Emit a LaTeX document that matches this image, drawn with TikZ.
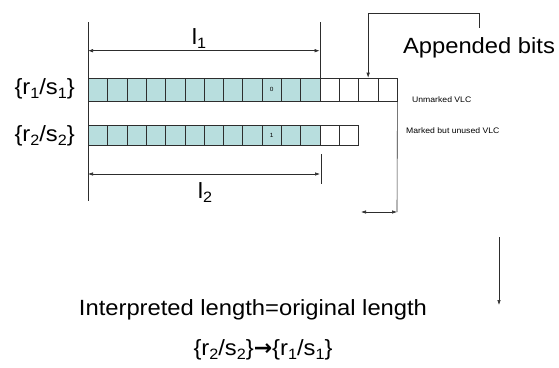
\documentclass[tikz,border=0pt]{standalone}
\usepackage{fontspec}
\setmainfont{Liberation Sans}[FakeStretch=1.08]
\newfontfamily\arrowfont{DejaVu Sans}
\usetikzlibrary{arrows.meta, positioning}
\definecolor{bitfill}{RGB}{184,222,222}
\definecolor{inkgray}{RGB}{45,45,45}
\newcommand{\lowidx}[1]{\raisebox{-0.22em}{\fontsize{15}{16}\selectfont #1}}

\begin{document}
\begin{tikzpicture}[
  x=1pt, y=-1pt,
  bit/.style={rectangle, draw=inkgray, line width=0.6pt, fill=bitfill, minimum width=19.3pt, inner sep=0pt, anchor=north west, font=\fontsize{6}{7}\selectfont},
  padbit/.style={bit, fill=white},
  big/.style={inner sep=0pt, font=\fontsize{22}{26}\selectfont},
  note/.style={inner sep=0pt, anchor=base west, font=\fontsize{8}{10}\selectfont},
  line/.style={draw=inkgray, line width=0.6pt},
  dim/.style={line, {Latex[length=5pt,width=3.5pt]}-{Latex[length=5pt,width=3.5pt]}},
  tip/.style={line, -{Latex[length=5pt,width=3.5pt]}}
]
  \useasboundingbox (0,0) rectangle (559,367);

  % the two code words
  \foreach \i in {1,...,12}
    \node[bit, minimum height=23.3pt] (a\i) at ({88+(\i-1)*19.3},77.7) {\ifnum\i=10 0\fi};
  \foreach \i in {13,...,16}
    \node[padbit, minimum height=23.3pt] (a\i) at ({88+(\i-1)*19.3},77.7) {};
  \foreach \i in {1,...,12}
    \node[bit, minimum height=20pt] (b\i) at ({88+(\i-1)*19.3},125) {\ifnum\i=10 1\fi};
  \foreach \i in {13,14}
    \node[padbit, minimum height=20pt] (b\i) at ({88+(\i-1)*19.3},125) {};

  \node[big, anchor=base east] (lab1) at (75,94) {\{r\lowidx{1}/s\lowidx{1}\}};
  \node[big, anchor=base east] (lab2) at (75,141) {\{r\lowidx{2}/s\lowidx{2}\}};

  \node[note] (unmarked) at (412,102) {Unmarked VLC};
  \node[note] (marked) at (406,133) {Marked but unused VLC};

  % lengths
  \coordinate (extTop) at (88,22);
  \coordinate (extBot) at (88,201);
  \coordinate (l1a) at (88,50.7);
  \coordinate (l1b) at (319.6,50.7);
  \coordinate (l2a) at (88,174);
  \coordinate (l2b) at (320,174);
  \coordinate (l2top) at (321,154);
  \coordinate (l2bot) at (321,184);
  \draw[line] (extTop) -- (extBot);
  \draw[line] (a12.north east) -- ++(0,-56);
  \draw[line] (l2top) -- (l2bot);
  \draw[dim] (l1a) -- (l1b);
  \draw[dim] (l2a) -- (l2b);
  \node[big, anchor=base] (len1) at (199,44) {l\lowidx{1}};
  \node[big, anchor=base] (len2) at (205,198) {l\lowidx{2}};

  % appended bits
  \node[big, anchor=base] (appnote) at (479,53) {Appended bits};
  \draw[tip] ([yshift=9pt]appnote.north) -- ++(0,-15) -| (a15.north);
  \coordinate (gapL) at (361,212);
  \coordinate (gapR) at (397,212);
  \draw[line] (a16.south east) -- (gapR);
  \draw[dim] (gapL) -- (gapR);

  % result
  \coordinate (flowTop) at (499,237);
  \coordinate (flowBot) at (499,305);
  \draw[tip] (flowTop) -- (flowBot);
  \node[big, anchor=base] (interp) at (253,315) {Interpreted length=original length};
  \node[big, anchor=base] (swap) at (263,355) {\{r\lowidx{2}/s\lowidx{2}\}{\arrowfont\bfseries →}\{r\lowidx{1}/s\lowidx{1}\}};
\end{tikzpicture}
\end{document}
